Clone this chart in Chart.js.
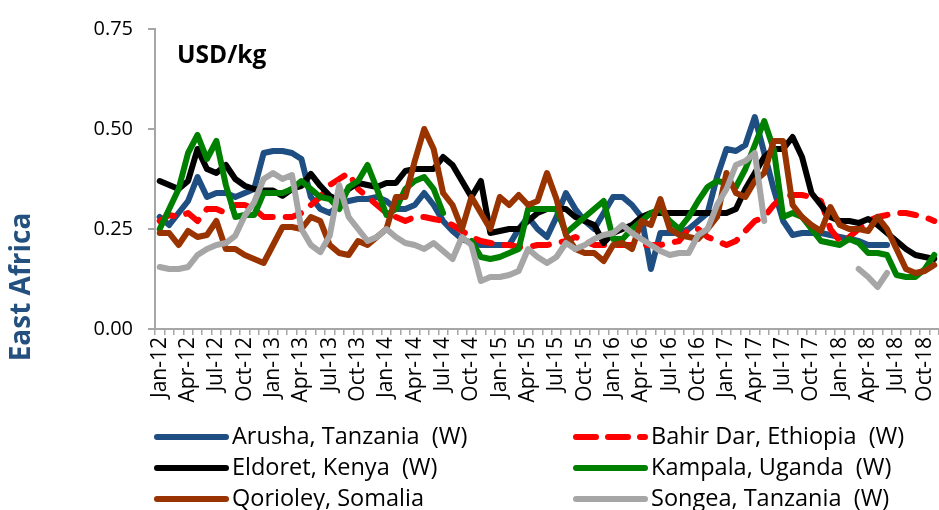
<!DOCTYPE html>
<html>
<head>
<meta charset="utf-8">
<script src="https://cdn.jsdelivr.net/npm/chart.js@4"></script>
<style>
  html, body { margin: 0; padding: 0; background: #fff; overflow: hidden; }
  canvas { display: block; }
</style>
</head>
<body>
<canvas id="chart" width="939" height="510"></canvas>
<script>
// months Jan-12 .. Nov-18
const monthNames = ['Jan', 'Feb', 'Mar', 'Apr', 'May', 'Jun', 'Jul', 'Aug', 'Sep', 'Oct', 'Nov', 'Dec'];
const years = ['12', '13', '14', '15', '16', '17', '18'];
const labels = [];
years.forEach(y => monthNames.forEach(m => labels.push(m + '-' + y)));
labels.length = 83;

const yTicks = [0, 0.25, 0.5, 0.75];

const arusha = [0.28,0.26,0.29,0.32,0.38,0.33,0.34,0.34,0.33,0.34,
  0.35,0.44,0.445,0.445,0.44,0.425,0.33,0.30,0.29,0.31,
  0.32,0.325,0.325,0.33,0.32,0.30,0.30,0.31,0.34,0.31,
  0.27,0.245,0.225,0.215,0.21,0.21,0.21,0.21,0.25,0.28,
  0.25,0.23,0.28,0.34,0.30,0.27,0.25,0.29,0.33,0.33,
  0.31,0.28,0.15,0.24,0.24,0.24,0.25,0.27,0.29,0.38,
  0.45,0.445,0.46,0.53,0.44,0.35,0.27,0.235,0.24,0.24,
  0.24,0.235,0.23,0.225,0.22,0.21,0.21,0.21,null,null,
  null,null,null];

const bahirDar = [0.27,0.285,0.28,0.29,0.27,0.30,0.30,0.29,0.31,0.31,
  0.30,0.28,0.28,0.28,0.28,0.29,0.31,0.33,0.36,0.375,
  0.39,0.35,0.33,0.31,0.29,0.28,0.27,0.28,0.28,0.275,
  0.27,0.26,0.245,0.23,0.22,0.215,0.21,0.21,0.205,0.205,
  0.21,0.21,0.215,0.22,0.23,0.22,0.21,0.21,0.21,0.21,
  0.21,0.21,0.21,0.21,0.215,0.22,0.25,0.25,0.23,0.22,
  0.21,0.22,0.245,0.27,0.28,0.31,0.33,0.335,0.335,0.33,
  0.32,0.25,0.22,0.23,0.25,0.27,0.28,0.285,0.29,0.29,
  0.285,0.28,0.27];

const eldoret = [0.37,0.36,0.35,0.37,0.45,0.40,0.39,0.41,0.375,0.358,
  0.35,0.346,0.346,0.333,0.35,0.358,0.388,0.358,0.333,0.32,
  0.35,0.365,0.36,0.355,0.365,0.365,0.395,0.40,0.40,0.40,
  0.43,0.41,0.37,0.33,0.37,0.24,0.245,0.25,0.25,0.27,
  0.29,0.30,0.30,0.30,0.28,0.27,0.26,0.215,0.24,0.25,
  0.26,0.28,0.29,0.29,0.29,0.29,0.29,0.29,0.29,0.29,
  0.29,0.30,0.35,0.39,0.43,0.45,0.45,0.48,0.43,0.34,
  0.31,0.28,0.27,0.27,0.265,0.275,0.26,0.24,0.22,0.20,
  0.185,0.18,0.175];

const kampala = [0.25,0.30,0.35,0.44,0.485,0.425,0.47,0.36,0.28,0.285,
  0.285,0.34,0.34,0.34,0.35,0.37,0.35,0.33,0.325,0.30,
  0.355,0.37,0.41,0.35,0.285,0.30,0.35,0.37,0.38,0.35,
  0.29,null,null,0.22,0.18,0.175,0.18,0.19,0.20,0.30,
  0.30,0.30,0.30,0.24,0.26,0.28,0.30,0.32,0.225,0.225,
  0.25,0.27,0.29,0.30,0.27,0.25,0.28,0.32,0.355,0.37,
  0.365,0.355,0.40,0.46,0.52,0.45,0.28,0.29,0.28,0.25,
  0.22,0.215,0.21,0.225,0.215,0.19,0.19,0.185,0.135,0.13,
  0.13,0.15,0.185];

const qorioley = [0.24,0.24,0.21,0.245,0.23,0.235,0.27,0.20,0.20,0.185,
  0.175,0.165,0.21,0.255,0.255,0.25,0.28,0.27,0.21,0.19,
  0.185,0.22,0.21,0.23,0.25,0.33,0.33,0.42,0.50,0.45,
  0.34,0.31,0.25,0.33,0.29,0.25,0.33,0.31,0.335,0.31,
  0.32,0.39,0.325,0.235,0.20,0.19,0.19,0.17,0.21,0.215,
  0.20,0.27,0.26,0.325,0.25,0.235,0.23,0.225,0.25,0.28,
  0.39,0.34,0.33,0.37,0.39,0.47,0.47,0.31,0.28,0.26,
  0.245,0.305,0.26,0.25,0.25,0.245,0.28,0.25,0.20,0.15,
  0.14,0.145,0.16];

const songea = [0.155,0.15,0.15,0.155,0.185,0.20,0.21,0.215,0.233,0.283,
  0.317,0.375,0.39,0.375,0.385,0.25,0.21,0.192,0.233,0.36,
  0.28,0.25,0.22,0.23,0.25,0.23,0.215,0.21,0.20,0.215,
  0.195,0.175,0.23,0.21,0.12,0.13,0.13,0.135,0.145,0.20,
  0.18,0.165,0.18,0.215,0.20,0.21,0.225,0.235,0.24,0.26,
  0.24,0.225,0.21,0.195,0.185,0.19,0.19,0.235,0.25,0.31,
  0.35,0.41,0.42,0.44,0.27,null,null,null,null,null,
  null,null,null,null,0.15,0.13,0.105,0.14,null,null,
  null,null,null];

const seriesNames = ['Arusha, Tanzania  (W)', 'Bahir Dar, Ethiopia  (W)', 'Eldoret, Kenya  (W)',
  'Kampala, Uganda  (W)', 'Qorioley, Somalia', 'Songea, Tanzania  (W)'];
const seriesData = [arusha, bahirDar, eldoret, kampala, qorioley, songea];
const seriesColors = ['#1F4E82', '#FF0000', '#000000', '#008000', '#993300', '#A6A6A6'];
const seriesDash = [[], [16, 13], [], [], [], []];
const legendDash = [[], [20, 12], [], [], [], []];

const FONT = '"Open Sans", "Liberation Sans", sans-serif';

// titles + two-column legend drawn on the canvas
const decorPlugin = {
    id: 'decor',
    afterDraw(chart) {
        const ctx = chart.ctx;
        ctx.save();

        // side label
        ctx.save();
        ctx.translate(22, 287);
        ctx.rotate(-Math.PI / 2);
        ctx.fillStyle = '#24507F';
        ctx.font = 'bold 28px ' + FONT;
        ctx.textAlign = 'center';
        ctx.textBaseline = 'middle';
        ctx.fillText('East Africa', 0, 0);
        ctx.restore();

        // unit label
        ctx.fillStyle = '#000';
        ctx.font = 'bold 24.5px ' + FONT;
        ctx.textAlign = 'left';
        ctx.textBaseline = 'alphabetic';
        ctx.fillText('USD/kg', 177, 63);

        // legend
        const colX = [154, 573];
        const rowY = [437, 468, 499];
        const lineLen = 72;
        chart.data.datasets.forEach((ds, i) => {
            const x = colX[i % 2];
            const y = rowY[Math.floor(i / 2)];
            ctx.strokeStyle = ds.borderColor;
            ctx.lineWidth = 6;
            ctx.lineCap = 'round';
            ctx.setLineDash(legendDash[i]);
            ctx.beginPath();
            ctx.moveTo(x + 3, y);
            ctx.lineTo(x + lineLen, y);
            ctx.stroke();
            ctx.setLineDash([]);
            ctx.fillStyle = '#000';
            ctx.font = '23.5px ' + FONT;
            ctx.textBaseline = 'middle';
            ctx.fillText(ds.label, x + lineLen + 6, y);
        });
        ctx.restore();
    }
};

new Chart(document.getElementById('chart'), {
    type: 'line',
    data: {
        labels: labels,
        datasets: seriesData.map((d, i) => ({
            label: seriesNames[i],
            data: d,
            borderColor: seriesColors[i],
            backgroundColor: seriesColors[i],
            borderWidth: 6,
            borderDash: seriesDash[i],
            borderCapStyle: 'round',
            borderJoinStyle: 'round',
            pointRadius: 0,
            tension: 0,
            spanGaps: false,
            order: seriesData.length - i
        }))
    },
    options: {
        responsive: false,
        animation: false,
        layout: { padding: { top: 29, left: 0, right: 0, bottom: 0 } },
        plugins: {
            legend: { display: false },
            tooltip: { enabled: false }
        },
        scales: {
            x: {
                offset: true,
                grid: { offset: true, drawOnChartArea: false, drawTicks: true, tickLength: 6, color: '#A6A6A6', lineWidth: 1.5 },
                border: { color: '#A6A6A6', width: 2 },
                ticks: {
                    autoSkip: false,
                    maxRotation: 90,
                    minRotation: 90,
                    padding: 2,
                    color: '#000',
                    font: { family: FONT, size: 21 },
                    callback: (v, i) => (i % 3 === 0 ? labels[i] : '')
                },
                afterFit: s => {
                    s.height = 181;
                    s.paddingLeft = 0;
                    s.paddingRight = 0;
                }
            },
            y: {
                min: 0,
                max: 0.75,
                afterBuildTicks: s => { s.ticks = yTicks.map(v => ({ value: v })); },
                grid: { drawOnChartArea: false, drawTicks: true, tickLength: 7, color: '#A6A6A6', lineWidth: 2 },
                border: { color: '#A6A6A6', width: 2 },
                ticks: {
                    padding: 15,
                    color: '#000',
                    font: { family: FONT, size: 20 },
                    callback: v => v.toFixed(2)
                },
                afterFit: s => { s.width = 155; }
            }
        }
    },
    plugins: [decorPlugin]
});
</script>
</body>
</html>
